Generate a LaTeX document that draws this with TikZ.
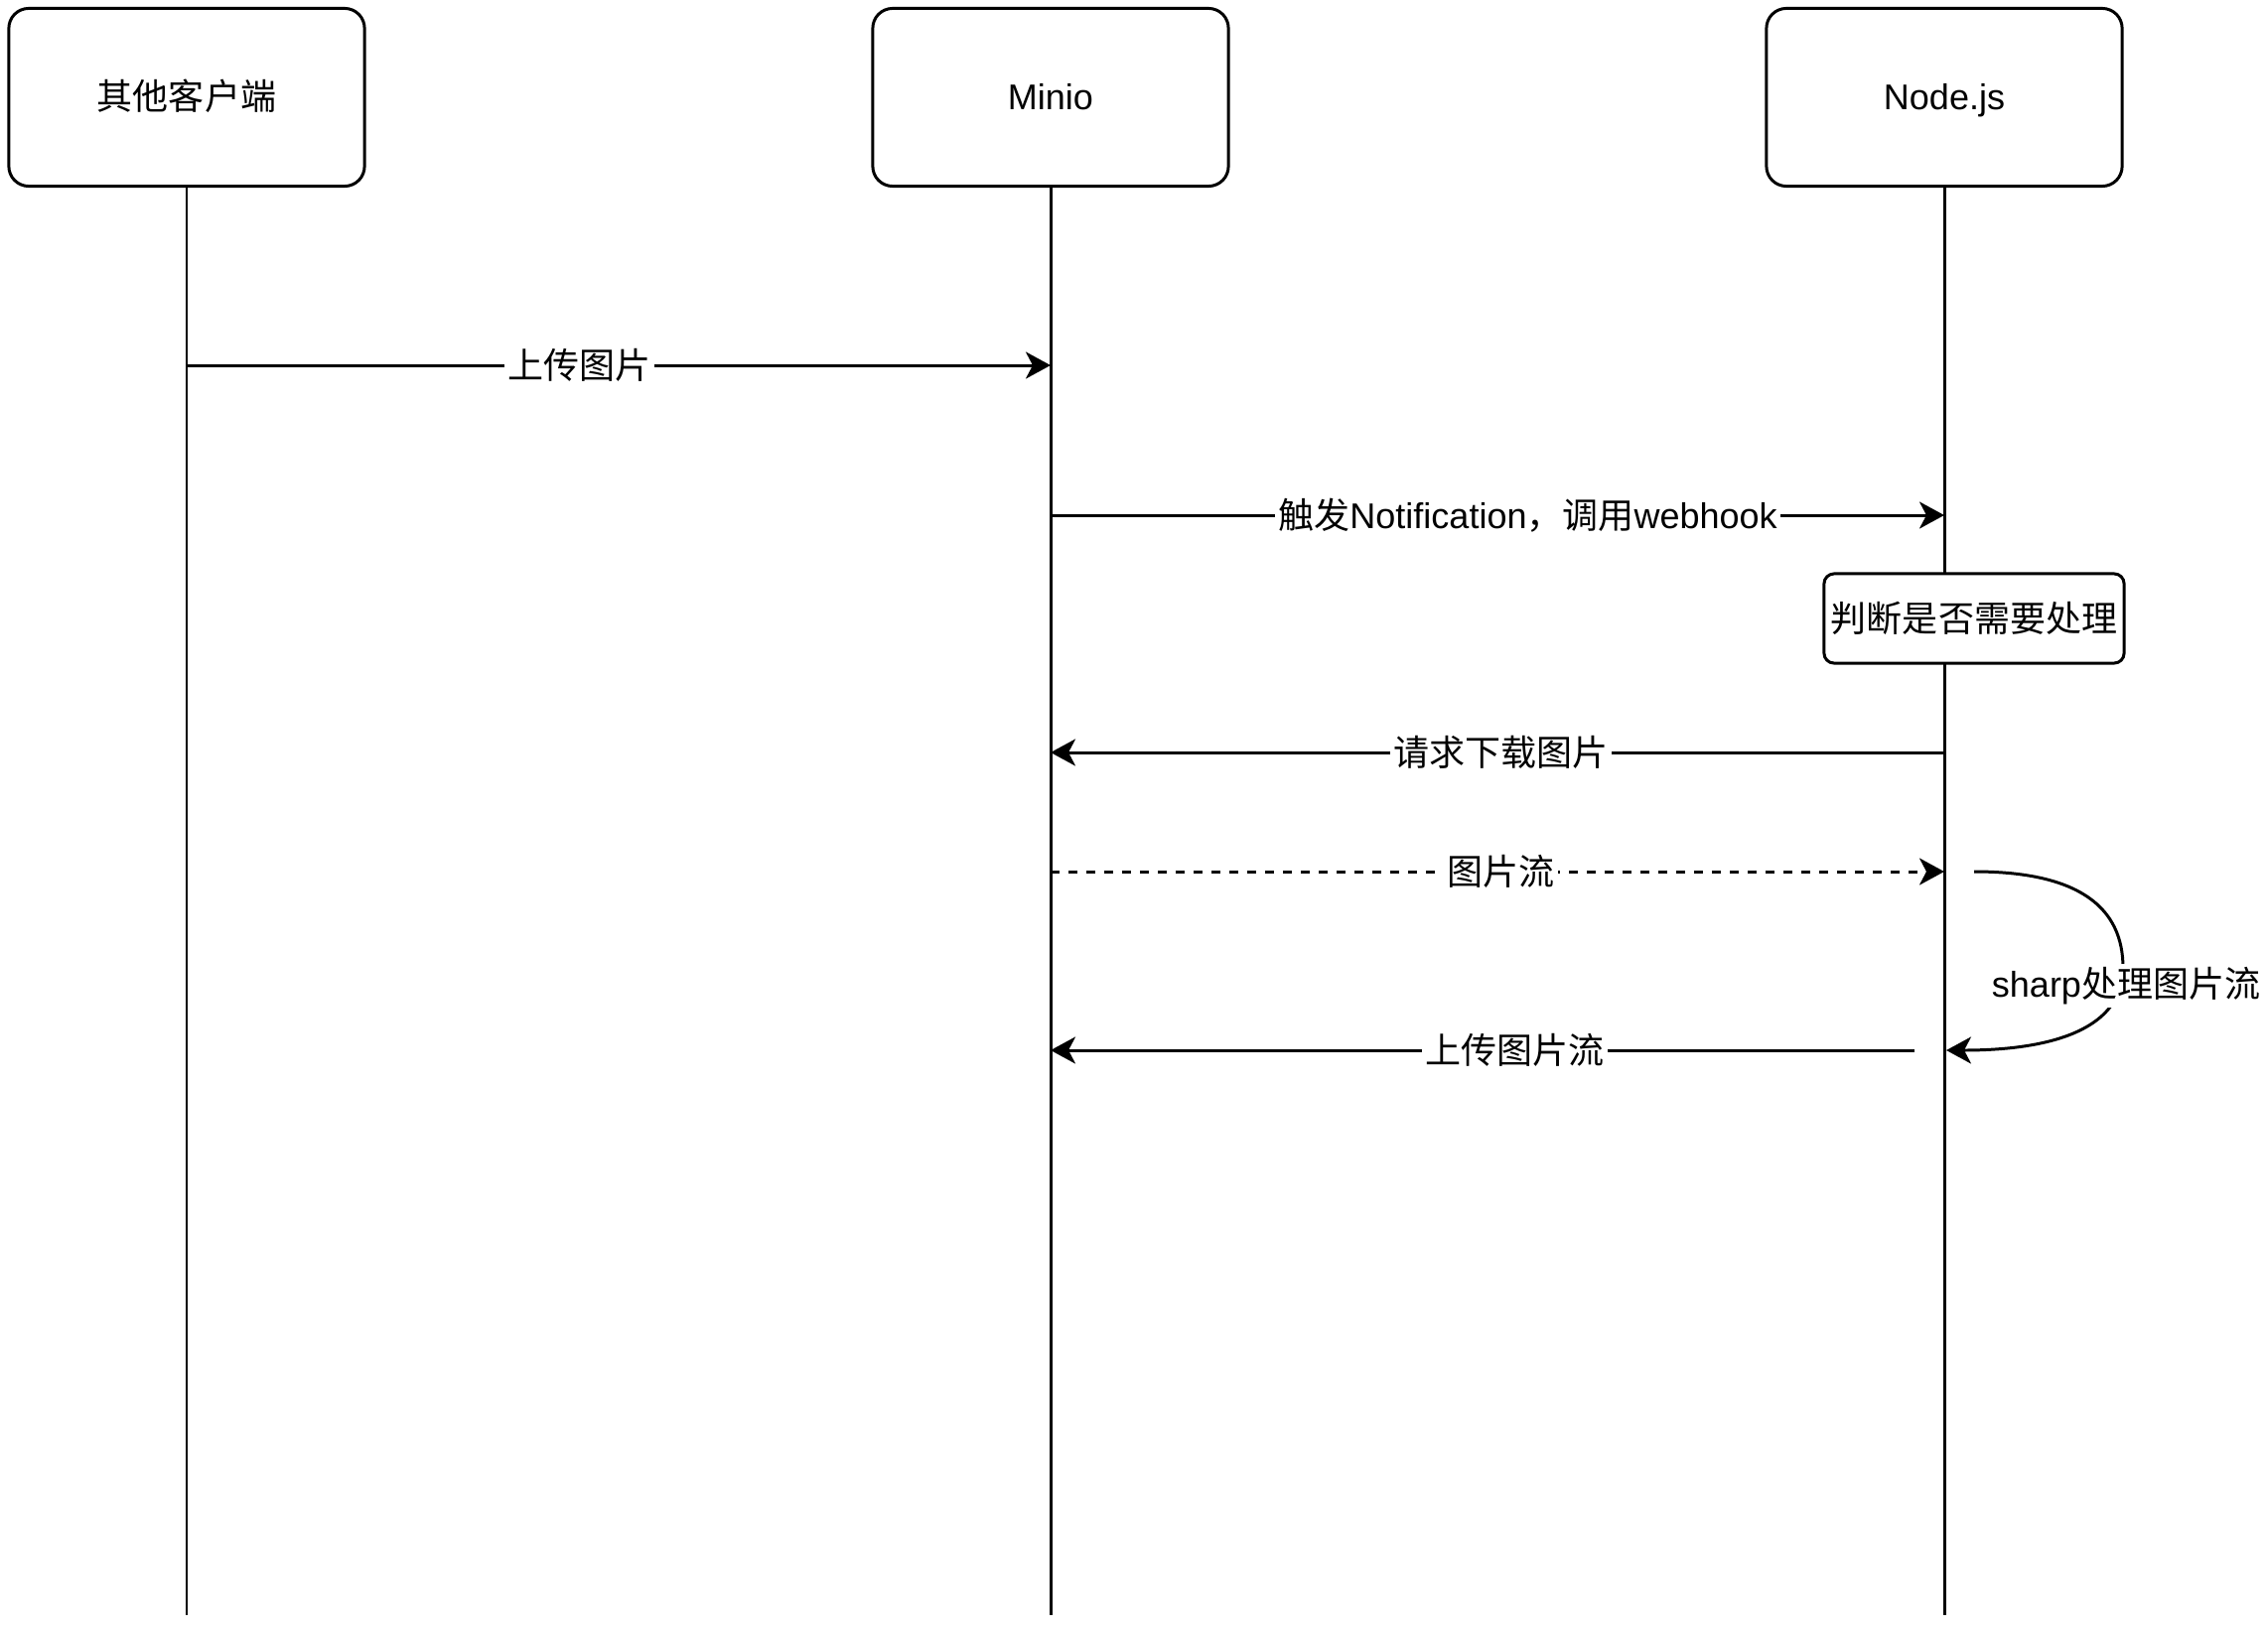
\documentclass[tikz,border=0pt]{standalone}
\usepackage{fontspec}
\setmainfont{Liberation Sans}
\newfontfamily\cjk{Noto Sans CJK SC}
\usetikzlibrary{arrows.meta}
\newcommand{\lblfont}{\fontsize{10.24pt}{12pt}\selectfont}

\begin{document}
\begin{tikzpicture}[x=0.01cm, y=-0.01cm,
    actor/.style={rectangle, rounded corners=0.2cm, draw=black, fill=white, line width=0.85pt, minimum width=3.58cm, minimum height=1.79cm, text height=0.7em, text depth=0em, align=center, font=\lblfont},
    note/.style={rectangle, rounded corners=0.1cm, draw=black, fill=white, line width=0.85pt, minimum width=3.02cm, minimum height=0.9cm, inner sep=0pt, font=\lblfont},
    lifeline/.style={line width=0.85pt, draw=black},
    msg/.style={-{Stealth[length=0.25cm, width=0.27cm, inset=0.07cm]}, line width=0.85pt, draw=black},
    reply/.style={msg, dash pattern=on 0.09cm off 0.09cm},
    lbl/.style={fill=white, inner sep=1pt, font=\lblfont}
]
    \useasboundingbox (0,0) rectangle (2284,1642);

    % Nodes
    \node[actor] (cli) at (188,98) {\cjk 其他客户端};
    \node[actor] (minio) at (1058,98) {Minio};
    \node[actor] (nodejs) at (1958,98) {Node.js};

    % Lifelines
    \coordinate (cliEnd) at (cli |- 0,1627);
    \coordinate (minioEnd) at (minio |- 0,1627);
    \coordinate (nodejsEnd) at (nodejs |- 0,1627);
    \draw[lifeline] (cli) -- (cliEnd);
    \draw[lifeline] (minio) -- (minioEnd);
    \draw[lifeline] (nodejs) -- (nodejsEnd);

    \node[note] (check) at (1988,623) {\cjk 判断是否需要处理};

    % Message points
    \coordinate (upA) at (cli |- 0,368);
    \coordinate (upB) at (minio |- 0,368);
    \coordinate (hookA) at (minio |- 0,519);
    \coordinate (hookB) at (nodejs |- 0,519);
    \coordinate (getA) at (nodejs |- 0,758);
    \coordinate (getB) at (minio |- 0,758);
    \coordinate (streamA) at (minio |- 0,878);
    \coordinate (streamB) at (nodejs |- 0,878);
    \coordinate (sharpA) at (1988,878);
    \coordinate (sharpB) at (1960,1058);
    \coordinate (backA) at (1928,1058);
    \coordinate (backB) at (minio |- 0,1058);

    % Arrows
    \draw[msg] (upA) -- node[lbl, pos=0.455] {\cjk 上传图片} (upB);
    \draw[msg] (hookA) -- node[lbl, pos=0.534] {{\cjk 触发}Notification{\cjk ，调用}webhook} (hookB);
    \draw[msg] (getA) -- node[lbl, pos=0.496] {\cjk 请求下载图片} (getB);
    \draw[reply] (streamA) -- node[lbl, pos=0.504] {\cjk 图片流} (streamB);
    \draw[msg] (sharpA) .. controls (2095,878) and (2138,915) .. (2138,975)
        .. controls (2138,1035) and (2070,1058) .. (sharpB);
    \node[lbl] (sharp) at (2141,993) {sharp{\cjk 处理图片流}};
    \draw[msg] (backA) -- node[lbl, pos=0.463] {\cjk 上传图片流} (backB);
\end{tikzpicture}
\end{document}
